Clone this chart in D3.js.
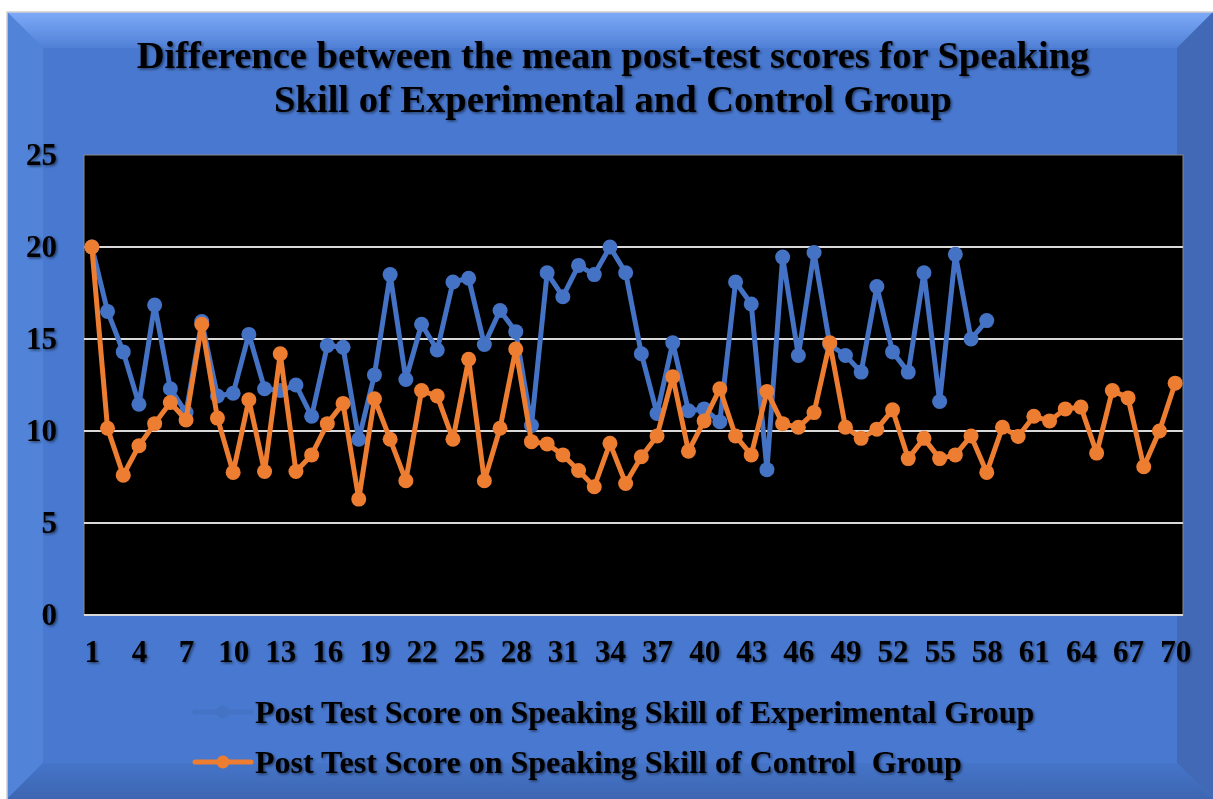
<html lang="en">
    <head>
        <meta charset="utf-8">
        <title>Speaking skill post-test scores</title>
        <style>
			body {
				margin: 0;
				background-color: white;
			}
			.axis text, .title, .legend text {
				font-family: "Liberation Serif", "Times New Roman", serif;
				font-weight: bold;
				fill: black;
			}
			.axis path, .axis line {
				display: none;
			}
        </style>
    </head>
    <body>
    <script type="text/javascript" src="https://cdnjs.cloudflare.com/ajax/libs/d3/7.8.5/d3.min.js"></script>
    <script type="text/javascript">

// data
var students = d3.range(1, 71);
var experimental = [20, 16.5, 14.3, 11.45, 16.85, 12.3, 11.0, 15.95, 11.9, 12.05,
                    15.25, 12.3, 12.2, 12.5, 10.8, 14.65, 14.55, 9.55, 13.05, 18.5,
                    12.8, 15.8, 14.4, 18.1, 18.3, 14.7, 16.55, 15.4, 10.3, 18.6,
                    17.3, 19.0, 18.5, 20.0, 18.6, 14.2, 10.95, 14.8, 11.1, 11.2,
                    10.5, 18.1, 16.9, 7.9, 19.45, 14.1, 19.7, 14.7, 14.1, 13.2,
                    17.85, 14.3, 13.2, 18.6, 11.6, 19.6, 15.0, 16.0];
var control = [20, 10.15, 7.6, 9.2, 10.4, 11.55, 10.6, 15.8, 10.7, 7.75,
               11.7, 7.8, 14.2, 7.8, 8.7, 10.4, 11.5, 6.3, 11.75, 9.55,
               7.3, 12.2, 11.9, 9.55, 13.9, 7.3, 10.15, 14.45, 9.42, 9.3,
               8.7, 7.85, 6.97, 9.33, 7.15, 8.6, 9.73, 12.95, 8.9, 10.55,
               12.3, 9.73, 8.7, 12.15, 10.4, 10.2, 11.0, 14.8, 10.2, 9.6,
               10.1, 11.15, 8.5, 9.6, 8.5, 8.7, 9.73, 7.75, 10.2, 9.7,
               10.8, 10.55, 11.2, 11.3, 8.8, 12.2, 11.8, 8.06, 10.0, 12.6];
var yTicks = [0, 5, 10, 15, 20, 25];
var xTicks = students.filter(function(d) { return (d - 1) % 3 === 0; });
var seriesNames = ["Post Test Score on Speaking Skill of Experimental Group",
                   "Post Test Score on Speaking Skill of Control  Group"];
var colors = ["#4472C4", "#ED7D31"];
var titleLines = ["Difference between the mean post-test scores for Speaking",
                  "Skill of Experimental and Control Group"];

var fullWidth = 1213;
var fullHeight = 799;
var plot = {left: 84, right: 1183, top: 155, bottom: 615};

var svg = d3.select("body")
            .append("svg")
            .attr("width", fullWidth)
            .attr("height", fullHeight);

var defs = svg.append("defs");
var topGrad = defs.append("linearGradient").attr("id", "topGrad")
                  .attr("x1", 0).attr("y1", 0).attr("x2", 0).attr("y2", 1);
topGrad.append("stop").attr("offset", "0%").attr("stop-color", "#7eaaf8");
topGrad.append("stop").attr("offset", "100%").attr("stop-color", "#5080d6");
var botGrad = defs.append("linearGradient").attr("id", "botGrad")
                  .attr("x1", 0).attr("y1", 0).attr("x2", 0).attr("y2", 1);
botGrad.append("stop").attr("offset", "0%").attr("stop-color", "#4574c8");
botGrad.append("stop").attr("offset", "100%").attr("stop-color", "#3d66b2");
var shadow = defs.append("filter").attr("id", "shadow")
                 .attr("x", "-5%").attr("y", "-20%").attr("width", "110%").attr("height", "140%");
shadow.append("feDropShadow").attr("dx", 1.5).attr("dy", 1.5).attr("stdDeviation", 1.2)
      .attr("flood-color", "#000").attr("flood-opacity", 0.5);

// beveled frame
var fx0 = 7, fy0 = 12, fx1 = 1213, fy1 = 799, bev = 36;
svg.append("rect")
   .attr("x", fx0).attr("y", fy0)
   .attr("width", fx1 - fx0).attr("height", fy1 - fy0)
   .attr("fill", "#4a7bd0");
function poly(pts, fill) {
  svg.append("polygon")
     .attr("points", pts.map(function(p) { return p.join(","); }).join(" "))
     .attr("fill", fill);
}
poly([[fx0, fy0], [fx1, fy0], [fx1 - bev, fy0 + bev], [fx0 + bev, fy0 + bev]], "url(#topGrad)");
poly([[fx0, fy0], [fx0 + bev, fy0 + bev], [fx0 + bev, fy1 - bev], [fx0, fy1]], "#5183d8");
poly([[fx1, fy0], [fx1, fy1], [fx1 - bev, fy1 - bev], [fx1 - bev, fy0 + bev]], "#4269b6");
poly([[fx0, fy1], [fx0 + bev, fy1 - bev], [fx1 - bev, fy1 - bev], [fx1, fy1]], "url(#botGrad)");
svg.append("rect")
   .attr("x", fx0 + bev).attr("y", fy0 + bev)
   .attr("width", fx1 - fx0 - 2 * bev).attr("height", fy1 - fy0 - 2 * bev)
   .attr("fill", "#4878cf");
svg.append("rect")
   .attr("x", fx0).attr("y", fy0)
   .attr("width", fx1 - fx0 + 2).attr("height", fy1 - fy0 + 2)
   .attr("fill", "none").attr("stroke", "#d0d0d0").attr("stroke-width", 1.5);

// title
svg.append("g").attr("filter", "url(#shadow)")
   .selectAll("text")
   .data(titleLines).enter()
   .append("text").attr("class", "title")
   .attr("x", 613)
   .attr("y", function(d, i) { return 68 + i * 44; })
   .attr("text-anchor", "middle")
   .style("font-size", "38.5px")
   .text(function(d) { return d; });

var xScale = d3.scalePoint()
               .domain(students)
               .range([plot.left, plot.right])
               .padding(0.5);
var yScale = d3.scaleLinear()
               .domain([0, 25])
               .range([plot.bottom, plot.top]);

// plot area
svg.append("rect")
   .attr("x", plot.left).attr("y", plot.top)
   .attr("width", plot.right - plot.left).attr("height", plot.bottom - plot.top)
   .attr("fill", "black").attr("stroke", "#8a8a8a").attr("stroke-width", 1);

svg.append("g")
   .selectAll("line")
   .data(yTicks.filter(function(d) { return d < 25; })).enter()
   .append("line")
   .attr("x1", plot.left).attr("x2", plot.right)
   .attr("y1", function(d) { return yScale(d); })
   .attr("y2", function(d) { return yScale(d); })
   .attr("stroke", "#d9d9d9").attr("stroke-width", 2);

// axes
var yAxis = d3.axisLeft(yScale).tickValues(yTicks).tickSize(0).tickPadding(27);
var xAxis = d3.axisBottom(xScale).tickValues(xTicks).tickSize(0).tickPadding(25);

svg.append("g")
   .attr("class", "axis")
   .attr("filter", "url(#shadow)")
   .attr("transform", "translate(" + plot.left + ",0)")
   .call(yAxis)
   .selectAll("text").style("font-size", "31px");

svg.append("g")
   .attr("class", "axis")
   .attr("filter", "url(#shadow)")
   .attr("transform", "translate(0," + plot.bottom + ")")
   .call(xAxis)
   .selectAll("text").style("font-size", "31px");

// lines and markers
var series = [experimental, control];
var line = d3.line()
             .x(function(d, i) { return xScale(students[i]); })
             .y(function(d) { return yScale(d); });

series.forEach(function(vals, s) {
  var g = svg.append("g").attr("class", "series");
  g.append("path")
   .datum(vals)
   .attr("d", line)
   .attr("fill", "none")
   .attr("stroke", colors[s])
   .attr("stroke-width", 5)
   .attr("stroke-linejoin", "round");
  g.selectAll("circle")
   .data(vals).enter()
   .append("circle")
   .attr("cx", function(d, i) { return xScale(students[i]); })
   .attr("cy", function(d) { return yScale(d); })
   .attr("r", 7.5)
   .attr("fill", colors[s]);
});

// legend
var legend = svg.append("g").attr("class", "legend");
var items = legend.selectAll("g")
                  .data(seriesNames).enter()
                  .append("g")
                  .attr("transform", function(d, i) { return "translate(195," + (712 + i * 50) + ")"; });
items.append("line")
     .attr("x1", 0).attr("x2", 56)
     .attr("stroke", function(d, i) { return colors[i]; })
     .attr("stroke-width", 5).attr("stroke-linecap", "round");
items.append("circle")
     .attr("cx", 28).attr("r", 6.5)
     .attr("fill", function(d, i) { return colors[i]; });
items.append("text")
     .attr("x", 60).attr("y", 11)
     .attr("filter", "url(#shadow)")
     .style("font-size", "32px")
     .style("white-space", "pre")
     .text(function(d) { return d; });

    </script>
    </body>
</html>
